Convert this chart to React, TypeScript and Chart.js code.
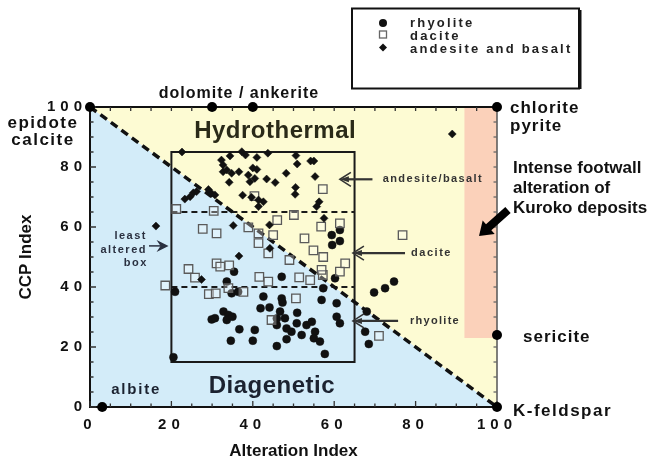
import React, { useEffect, useRef } from 'react';
import { Chart, registerables } from 'chart.js';

Chart.register(...registerables);

// ---------- data ----------
const rhyoliteX = [35.4, 33.6, 20.9, 34.8, 36.4, 42.6, 47.1, 47.3, 41.9, 44.1, 32.8, 34.0, 33.6, 29.9, 30.7, 35.0, 46.7, 50.9, 47.9, 45.9, 50.8, 53.2, 54.5, 48.3, 49.5, 52.0, 55.3, 55.0, 56.5, 57.7, 36.7, 40.5, 34.6, 40.0, 45.9, 48.3, 20.5, 57.3, 56.9, 60.6, 60.6, 61.4, 60.2, 69.8, 72.5, 74.7, 68.0, 67.6, 68.5, 59.4, 61.4, 59.5, 61.4, 47.1, 45.9];
const rhyoliteY = [45.1, 41.8, 38.4, 37.9, 38.4, 36.8, 36.2, 34.8, 32.9, 33.2, 31.8, 30.7, 29.0, 29.2, 29.6, 30.1, 31.8, 31.4, 29.6, 27.3, 27.9, 27.3, 28.4, 26.2, 25.1, 24.0, 25.1, 22.9, 21.8, 17.7, 25.9, 25.7, 22.1, 22.1, 20.3, 22.6, 16.6, 39.6, 35.7, 34.6, 30.1, 27.9, 42.9, 38.2, 39.6, 41.8, 31.8, 25.1, 21.0, 57.3, 59.0, 54.0, 55.3, 43.4, 29.5];

const daciteX = [21.2, 30.4, 40.4, 57.2, 50.1, 46.0, 56.8, 61.4, 27.7, 31.1, 38.9, 41.4, 45.0, 52.7, 41.4, 43.8, 54.9, 57.3, 49.0, 62.7, 76.8, 57.2, 71.0, 31.1, 32.0, 34.2, 24.2, 25.8, 18.5, 29.2, 30.9, 37.7, 34.0, 41.6, 43.8, 51.4, 54.1, 50.6, 44.6, 61.4, 56.9];
const daciteY = [66.0, 65.4, 70.3, 72.6, 64.0, 62.3, 60.1, 61.2, 59.4, 57.9, 59.9, 57.9, 57.3, 56.2, 54.6, 51.2, 52.2, 50.0, 49.0, 47.9, 57.3, 44.0, 23.7, 47.9, 46.8, 47.2, 46.0, 43.1, 40.5, 37.6, 37.9, 38.4, 39.6, 43.4, 41.8, 43.2, 42.3, 36.2, 29.0, 45.1, 45.7];

const andesiteX = [22.6, 32.3, 34.4, 37.3, 38.2, 41.0, 43.7, 50.6, 50.9, 54.2, 32.7, 32.7, 34.8, 36.6, 34.2, 38.9, 39.3, 40.5, 41.0, 43.4, 45.5, 48.2, 55.3, 50.5, 50.4, 37.5, 39.7, 41.4, 42.6, 41.4, 56.3, 55.7, 29.1, 29.9, 25.4, 24.6, 23.3, 26.2, 30.7, 35.2, 44.1, 57.5, 44.2, 36.6, 89.0, 16.2, 27.4, 40.0, 33.6, 55.0];
const andesiteY = [85.0, 82.3, 83.7, 85.1, 84.0, 83.2, 84.6, 83.8, 81.0, 82.0, 80.7, 78.4, 77.9, 78.4, 74.9, 77.3, 75.1, 76.2, 79.2, 76.0, 74.8, 77.9, 76.8, 73.2, 70.9, 70.6, 69.9, 69.0, 68.4, 66.8, 68.4, 66.8, 72.5, 71.2, 71.4, 70.1, 69.3, 71.8, 70.7, 60.5, 60.7, 62.9, 52.9, 50.3, 91.0, 60.3, 42.5, 79.7, 79.0, 82.0];

// end-member minerals on the frame
const mineralNames = ['epidote/calcite', 'dolomite', 'ankerite', 'chlorite/pyrite', 'sericite', 'K-feldspar', 'albite'];
const mineralX = [0, 30, 40, 100, 100, 100, 3];
const mineralY = [100, 100, 100, 100, 24, 0, 0];

const axisTicks = [0, 20, 40, 60, 80, 100];
const seriesLabels = ['rhyolite', 'dacite', 'andesite and basalt'];

const FONT = '"Liberation Sans", Arial, Helvetica, sans-serif';

function toPoints(xs: number[], ys: number[]) {
  return xs.map((x, i) => ({ x, y: ys[i] }));
}

function txt(ctx: CanvasRenderingContext2D, s: string, x: number, y: number, size: number, opts: any = {}) {
  ctx.save();
  ctx.font = `bold ${size}px ${FONT}`;
  ctx.fillStyle = opts.color || '#111';
  ctx.textAlign = opts.align || 'left';
  ctx.textBaseline = opts.baseline || 'alphabetic';
  (ctx as any).letterSpacing = (opts.spacing || 0) + 'px';
  ctx.fillText(s, x, y);
  ctx.restore();
}

function thinArrow(ctx: CanvasRenderingContext2D, x1: number, y1: number, x2: number, y2: number) {
  ctx.save();
  ctx.strokeStyle = '#333';
  ctx.fillStyle = '#333';
  ctx.lineWidth = 2.2;
  ctx.beginPath();
  ctx.moveTo(x1, y1);
  ctx.lineTo(x2 + 6, y2);
  ctx.stroke();
  ctx.lineWidth = 1.6;
  ctx.beginPath();
  ctx.moveTo(x2 + 11, y2 - 7);
  ctx.lineTo(x2, y2);
  ctx.lineTo(x2 + 11, y2 + 7);
  ctx.stroke();
  ctx.beginPath();
  ctx.moveTo(x2, y2);
  ctx.lineTo(x2 + 9, y2 - 3);
  ctx.lineTo(x2 + 9, y2 + 3);
  ctx.closePath();
  ctx.fill();
  ctx.restore();
}

function fatArrow(ctx: CanvasRenderingContext2D, x1: number, y1: number, x2: number, y2: number, shaft: number, headLen: number, headW: number) {
  const dx = x2 - x1, dy = y2 - y1;
  const L = Math.hypot(dx, dy);
  const ux = dx / L, uy = dy / L;
  const nx = -uy, ny = ux;
  const bx = x2 - ux * headLen, by = y2 - uy * headLen;
  ctx.save();
  ctx.fillStyle = '#000';
  ctx.beginPath();
  ctx.moveTo(x1 + nx * shaft / 2, y1 + ny * shaft / 2);
  ctx.lineTo(bx + nx * shaft / 2, by + ny * shaft / 2);
  ctx.lineTo(bx + nx * headW / 2, by + ny * headW / 2);
  ctx.lineTo(x2, y2);
  ctx.lineTo(bx - nx * headW / 2, by - ny * headW / 2);
  ctx.lineTo(bx - nx * shaft / 2, by - ny * shaft / 2);
  ctx.lineTo(x1 - nx * shaft / 2, y1 - ny * shaft / 2);
  ctx.closePath();
  ctx.fill();
  ctx.restore();
}

const diagramPlugin = {
  id: 'diagram',
  beforeDraw(chart: any) {
    const { ctx, scales } = chart;
    const X = (v: number) => scales.x.getPixelForValue(v);
    const Y = (v: number) => scales.y.getPixelForValue(v);
    (ctx as any).letterSpacing = '0px';
    ctx.save();
    // diagenetic field (below diagonal)
    ctx.fillStyle = '#d3ecf9';
    ctx.beginPath();
    ctx.moveTo(X(0), Y(100));
    ctx.lineTo(X(100), Y(0));
    ctx.lineTo(X(0), Y(0));
    ctx.closePath();
    ctx.fill();
    // hydrothermal field (above diagonal)
    ctx.fillStyle = '#fdfbd3';
    ctx.beginPath();
    ctx.moveTo(X(0), Y(100));
    ctx.lineTo(X(100), Y(100));
    ctx.lineTo(X(100), Y(0));
    ctx.closePath();
    ctx.fill();
    // Kuroko footwall field
    ctx.fillStyle = '#fbd1ba';
    ctx.fillRect(X(92), Y(100), X(100) - X(92), Y(23) - Y(100));
    ctx.restore();
  },
  beforeDatasetsDraw(chart: any) {
    const { ctx, scales, chartArea: ca } = chart;
    const X = (v: number) => scales.x.getPixelForValue(v);
    const Y = (v: number) => scales.y.getPixelForValue(v);
    ctx.save();
    // least altered box
    ctx.strokeStyle = '#1a1a1a';
    ctx.lineWidth = 2;
    ctx.strokeRect(X(20), Y(85), X(65) - X(20), Y(15) - Y(85));
    ctx.setLineDash([6, 4]);
    ctx.beginPath();
    ctx.moveTo(X(20), Y(65));
    ctx.lineTo(X(65), Y(65));
    ctx.moveTo(X(20), Y(40));
    ctx.lineTo(X(65), Y(40));
    ctx.stroke();
    // diagonal
    ctx.setLineDash([8, 5]);
    ctx.lineWidth = 3.5;
    ctx.strokeStyle = '#111';
    ctx.beginPath();
    ctx.moveTo(X(0), Y(100));
    ctx.lineTo(X(100), Y(0));
    ctx.stroke();
    ctx.setLineDash([]);
    // frame top & right
    ctx.strokeStyle = '#111';
    ctx.lineWidth = 2;
    ctx.beginPath();
    ctx.moveTo(ca.left, ca.top);
    ctx.lineTo(ca.right, ca.top);
    ctx.stroke();
    ctx.strokeStyle = '#555';
    ctx.lineWidth = 1.5;
    ctx.beginPath();
    ctx.moveTo(ca.right, ca.top);
    ctx.lineTo(ca.right, ca.bottom);
    ctx.stroke();
    // inward ticks
    ctx.lineWidth = 1.3;
    for (let v = 0; v <= 100; v += 5) {
      const major = v % 20 === 0;
      const len = major ? 6 : 3.5;
      const px = X(v), py = Y(v);
      ctx.strokeStyle = '#333';
      ctx.beginPath();
      ctx.moveTo(ca.left, py); ctx.lineTo(ca.left + len, py);
      ctx.moveTo(px, ca.bottom); ctx.lineTo(px, ca.bottom - len);
      ctx.moveTo(px, ca.top); ctx.lineTo(px, ca.top + 4);
      ctx.stroke();
      ctx.strokeStyle = '#666';
      ctx.beginPath();
      ctx.moveTo(ca.right, py); ctx.lineTo(ca.right - 3.5, py);
      ctx.stroke();
    }
    ctx.restore();
  },
  afterDatasetsDraw(chart: any) {
    const { ctx, scales, chartArea: ca } = chart;
    const X = (v: number) => scales.x.getPixelForValue(v);
    const Y = (v: number) => scales.y.getPixelForValue(v);
    (ctx as any).letterSpacing = '0px';

    // field names
    txt(ctx, 'Hydrothermal', X(45.5), Y(89.6), 24, { align: 'center', spacing: 0.5, color: '#2a2a18' });
    txt(ctx, 'Diagenetic', X(44.7), Y(4.6), 24, { align: 'center', spacing: 0.5, color: '#1b2230' });
    txt(ctx, 'albite', X(5.2), Y(4.3), 15, { spacing: 1.8, color: '#1b2230' });

    // end-member labels
    txt(ctx, 'epidote', 43, 128, 17, { align: 'center', spacing: 1.5 });
    txt(ctx, 'calcite', 43, 145, 17, { align: 'center', spacing: 1.5 });
    txt(ctx, 'dolomite / ankerite', X(36.6), 98, 16, { align: 'center', spacing: 1 });
    txt(ctx, 'chlorite', ca.right + 13, 113, 17, { spacing: 1 });
    txt(ctx, 'pyrite', ca.right + 13, 131, 17, { spacing: 1 });
    txt(ctx, 'sericite', ca.right + 26, 342, 17, { spacing: 1 });
    txt(ctx, 'K-feldspar', ca.right + 16, 416, 17, { spacing: 1.5 });
    txt(ctx, 'Intense footwall', ca.right + 16, 173, 17);
    txt(ctx, 'alteration of', ca.right + 16, 193, 17);
    txt(ctx, 'Kuroko deposits', ca.right + 16, 213, 17);
    fatArrow(ctx, ca.right + 11, 210, ca.right - 18, 236, 8, 13, 18);

    // rock-type arrows
    txt(ctx, 'andesite/basalt', X(71.9), Y(75.9), 11, { baseline: 'middle', spacing: 1.4, color: '#333' });
    thinArrow(ctx, X(69.4), Y(75.9), X(61.4), Y(75.9));
    txt(ctx, 'dacite', X(78.9), Y(51.3), 11, { baseline: 'middle', spacing: 1.5, color: '#333' });
    thinArrow(ctx, X(77.4), Y(51.3), X(64.6), Y(51.3));
    txt(ctx, 'rhyolite', X(78.6), Y(28.7), 11, { baseline: 'middle', spacing: 1.3, color: '#333' });
    thinArrow(ctx, X(75.7), Y(28.7), X(64.6), Y(28.7));

    // least altered box label
    txt(ctx, 'least', X(14), Y(57), 11, { align: 'right', baseline: 'middle', spacing: 1.5, color: '#2a3040' });
    txt(ctx, 'altered', X(14), Y(52.3), 11, { align: 'right', baseline: 'middle', spacing: 1.5, color: '#2a3040' });
    txt(ctx, 'box', X(14.2), Y(48), 11, { align: 'right', baseline: 'middle', spacing: 1.5, color: '#2a3040' });
    ctx.save();
    ctx.fillStyle = '#2a3040';
    ctx.strokeStyle = '#2a3040';
    ctx.lineWidth = 1.5;
    const ay = Y(53.7), ax = X(19.3);
    ctx.beginPath();
    ctx.moveTo(X(14.5), ay); ctx.lineTo(ax - 4, ay); ctx.stroke();
    ctx.beginPath();
    ctx.moveTo(ax, ay);
    ctx.lineTo(ax - 12, ay - 6);
    ctx.lineTo(ax - 8, ay);
    ctx.lineTo(ax - 12, ay + 6);
    ctx.closePath();
    ctx.fill();
    ctx.restore();

    // legend box
    ctx.save();
    ctx.strokeStyle = '#111';
    ctx.lineWidth = 2;
    ctx.strokeRect(352, 8.5, 227, 80);
    ctx.lineWidth = 3;
    ctx.beginPath();
    ctx.moveTo(580, 10); ctx.lineTo(580, 89);
    ctx.stroke();
    const lx = 383;
    const ly = [23, 34.5, 47.5];
    const by = [27, 39.5, 52.5];
    ctx.fillStyle = '#111';
    ctx.beginPath(); ctx.arc(lx, ly[0], 4, 0, Math.PI * 2); ctx.fill();
    ctx.strokeStyle = '#666'; ctx.lineWidth = 1.3;
    ctx.fillStyle = '#fff';
    ctx.fillRect(lx - 3.5, ly[1] - 3.5, 7, 7);
    ctx.strokeRect(lx - 3.5, ly[1] - 3.5, 7, 7);
    ctx.fillStyle = '#111';
    ctx.beginPath();
    ctx.moveTo(lx, ly[2] - 4); ctx.lineTo(lx + 4, ly[2]); ctx.lineTo(lx, ly[2] + 4); ctx.lineTo(lx - 4, ly[2]);
    ctx.closePath(); ctx.fill();
    ctx.restore();
    seriesLabels.forEach((s, i) => txt(ctx, s, 410, by[i], 13, { spacing: 2.2, color: '#222' }));

    // letter-spaced tick labels are drawn after this (ticks z = 1)
    (ctx as any).letterSpacing = '5px';
  },
  afterDraw(chart: any) {
    (chart.ctx as any).letterSpacing = '0px';
  },
};

export default function App() {
  const ref = useRef<HTMLCanvasElement | null>(null);
  useEffect(() => {
    if (!ref.current) return;
    const chart = new Chart(ref.current, {
      type: 'scatter',
      data: {
        datasets: [
          {
            label: seriesLabels[2],
            data: toPoints(andesiteX, andesiteY),
            pointStyle: 'rectRot',
            pointRadius: 4,
            backgroundColor: '#111',
            borderColor: '#111',
            borderWidth: 0.5,
          },
          {
            label: seriesLabels[1],
            data: toPoints(daciteX, daciteY),
            pointStyle: 'rect',
            pointRadius: 6,
            backgroundColor: 'rgba(255,255,255,0.3)',
            borderColor: '#5a5a5a',
            borderWidth: 1.3,
          },
          {
            label: seriesLabels[0],
            data: toPoints(rhyoliteX, rhyoliteY),
            pointStyle: 'circle',
            pointRadius: 4,
            backgroundColor: '#111',
            borderColor: '#111',
            borderWidth: 0.5,
          },
          {
            label: 'end members',
            data: toPoints(mineralX, mineralY),
            pointStyle: 'circle',
            pointRadius: 5,
            backgroundColor: '#000',
            borderColor: '#000',
            borderWidth: 0,
            clip: false,
          } as any,
        ],
      },
      options: {
        animation: false,
        responsive: true,
        maintainAspectRatio: false,
        layout: { padding: { left: 0, right: 168, top: 107, bottom: 0 } },
        plugins: { legend: { display: false }, tooltip: { enabled: false } },
        scales: {
          x: {
            type: 'linear',
            min: 0,
            max: 100,
            afterFit: (s: any) => { s.height = 56; },
            afterBuildTicks: (s: any) => { s.ticks = axisTicks.map((v) => ({ value: v })); },
            grid: { display: false, drawTicks: false },
            border: { display: true, color: '#111', width: 2 },
            ticks: {
              z: 1,
              padding: 9,
              color: '#111',
              font: { family: FONT, size: 15, weight: 'bold' },
              maxRotation: 0,
              callback: (v: any) => String(v),
            },
            title: {
              display: true,
              text: 'Alteration Index',
              color: '#111',
              font: { family: FONT, size: 17, weight: 'bold' },
              padding: { top: 0, bottom: 1 },
            },
          },
          y: {
            type: 'linear',
            min: 0,
            max: 100,
            afterFit: (s: any) => { s.width = 90; },
            afterBuildTicks: (s: any) => { s.ticks = axisTicks.map((v) => ({ value: v })); },
            grid: { display: false, drawTicks: false },
            border: { display: true, color: '#111', width: 2 },
            ticks: {
              z: 1,
              padding: 3,
              color: '#111',
              font: { family: FONT, size: 15, weight: 'bold' },
              callback: (v: any) => String(v),
            },
            title: {
              display: true,
              text: 'CCP Index',
              color: '#111',
              font: { family: FONT, size: 17, weight: 'bold' },
              padding: { top: 16, bottom: 0 },
            },
          },
        },
      },
      plugins: [diagramPlugin],
    });
    return () => chart.destroy();
  }, []);
  return (
    <div style={{ position: 'fixed', left: 0, top: 0, width: 665, height: 463, background: '#fff' }}>
      <canvas ref={ref} />
    </div>
  );
}
